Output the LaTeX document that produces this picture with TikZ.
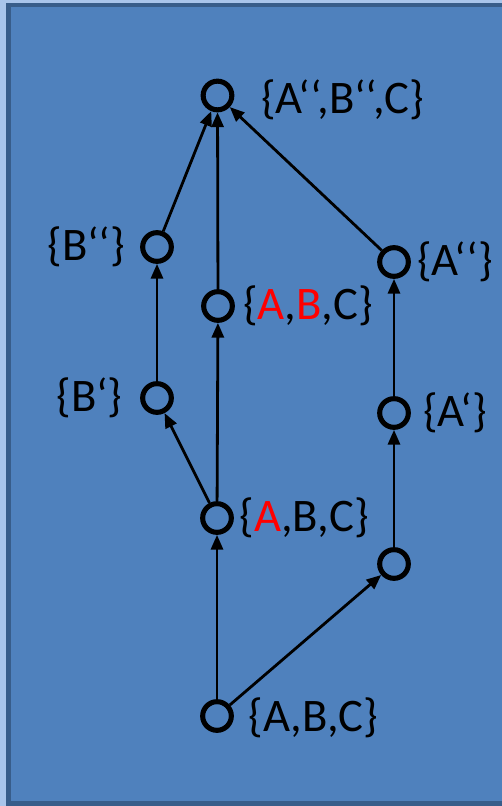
\documentclass[tikz,border=0pt]{standalone}
\usepackage{fontspec}
\setmainfont{Carlito}
\usetikzlibrary{arrows.meta,positioning}
\definecolor{bgblue}{HTML}{4F81BD}
\definecolor{rimblue}{HTML}{385D8A}
\definecolor{paleblue}{HTML}{A9C5EB}
\tikzset{
	vtx/.style={circle,draw=black,line width=3.8pt,minimum size=21.5pt,inner sep=0pt},
	lbl/.style={font=\fontsize{35}{38}\selectfont,inner sep=0pt},
	arr/.style={-{Triangle[length=11pt,width=9pt]},line width=2.1pt},
}
\begin{document}
\begin{tikzpicture}[x=0.75pt,y=-0.75pt]
			\useasboundingbox (0,0) rectangle (502,806);
			\fill[paleblue] (0,0) rectangle (502,806);
			\draw[rimblue,line width=3.4pt,fill=bgblue] (8.5,5) rectangle (530,803.5);

			% vertices
			\node[vtx] (abc) at (217,716) {};
			\node[vtx] (aabc) at (217,518) {};
			\node[vtx] (abbc) at (218,306) {};
			\node[vtx] (top) at (217.5,95.5) {};
			\node[vtx] (b1) at (157,398) {};
			\node[vtx] (b2) at (157,247) {};
			\node[vtx] (x) at (394,564) {};
			\node[vtx] (a1) at (394,413) {};
			\node[vtx] (a2) at (394,262) {};

			% labels
			\node[lbl,right=20pt of top,yshift=-3pt] (ltop) {\{A‘‘,B‘‘,C\}};
			\node[lbl,right=11pt of abc,yshift=-1pt] (labc) {\{A,B,C\}};
			\node[lbl,right=6pt of abbc] (labbc) {\{\textcolor{red}{A},\textcolor{red}{B},C\}};
			\node[lbl,right=4pt of aabc] (laabc) {\{\textcolor{red}{A},B,C\}};
			\node[lbl,right=4.5pt of a2] (la2) {\{A‘‘\}};
			\node[lbl,right=9pt of a1] (la1) {\{A‘\}};
			\node[lbl,left=11pt of b2] (lb2) {\{B‘‘\}};
			\node[lbl,left=13pt of b1] (lb1) {\{B‘\}};

			% edges
			\draw[arr] (abc) -- (aabc);
			\draw[arr] (abc) -- (x);
			\draw[arr] (aabc) -- (b1);
			\draw[arr] (aabc) -- (abbc);
			\draw[arr] (b1) -- (b2);
			\draw[arr] (b2) -- (top);
			\draw[arr] (abbc) -- (top);
			\draw[arr] (x) -- (a1);
			\draw[arr] (a1) -- (a2);
			\draw[arr] (a2) -- (top);

			% \draw[help lines,step=50] (0,0) grid (502,806);
		\end{tikzpicture}
\end{document}
